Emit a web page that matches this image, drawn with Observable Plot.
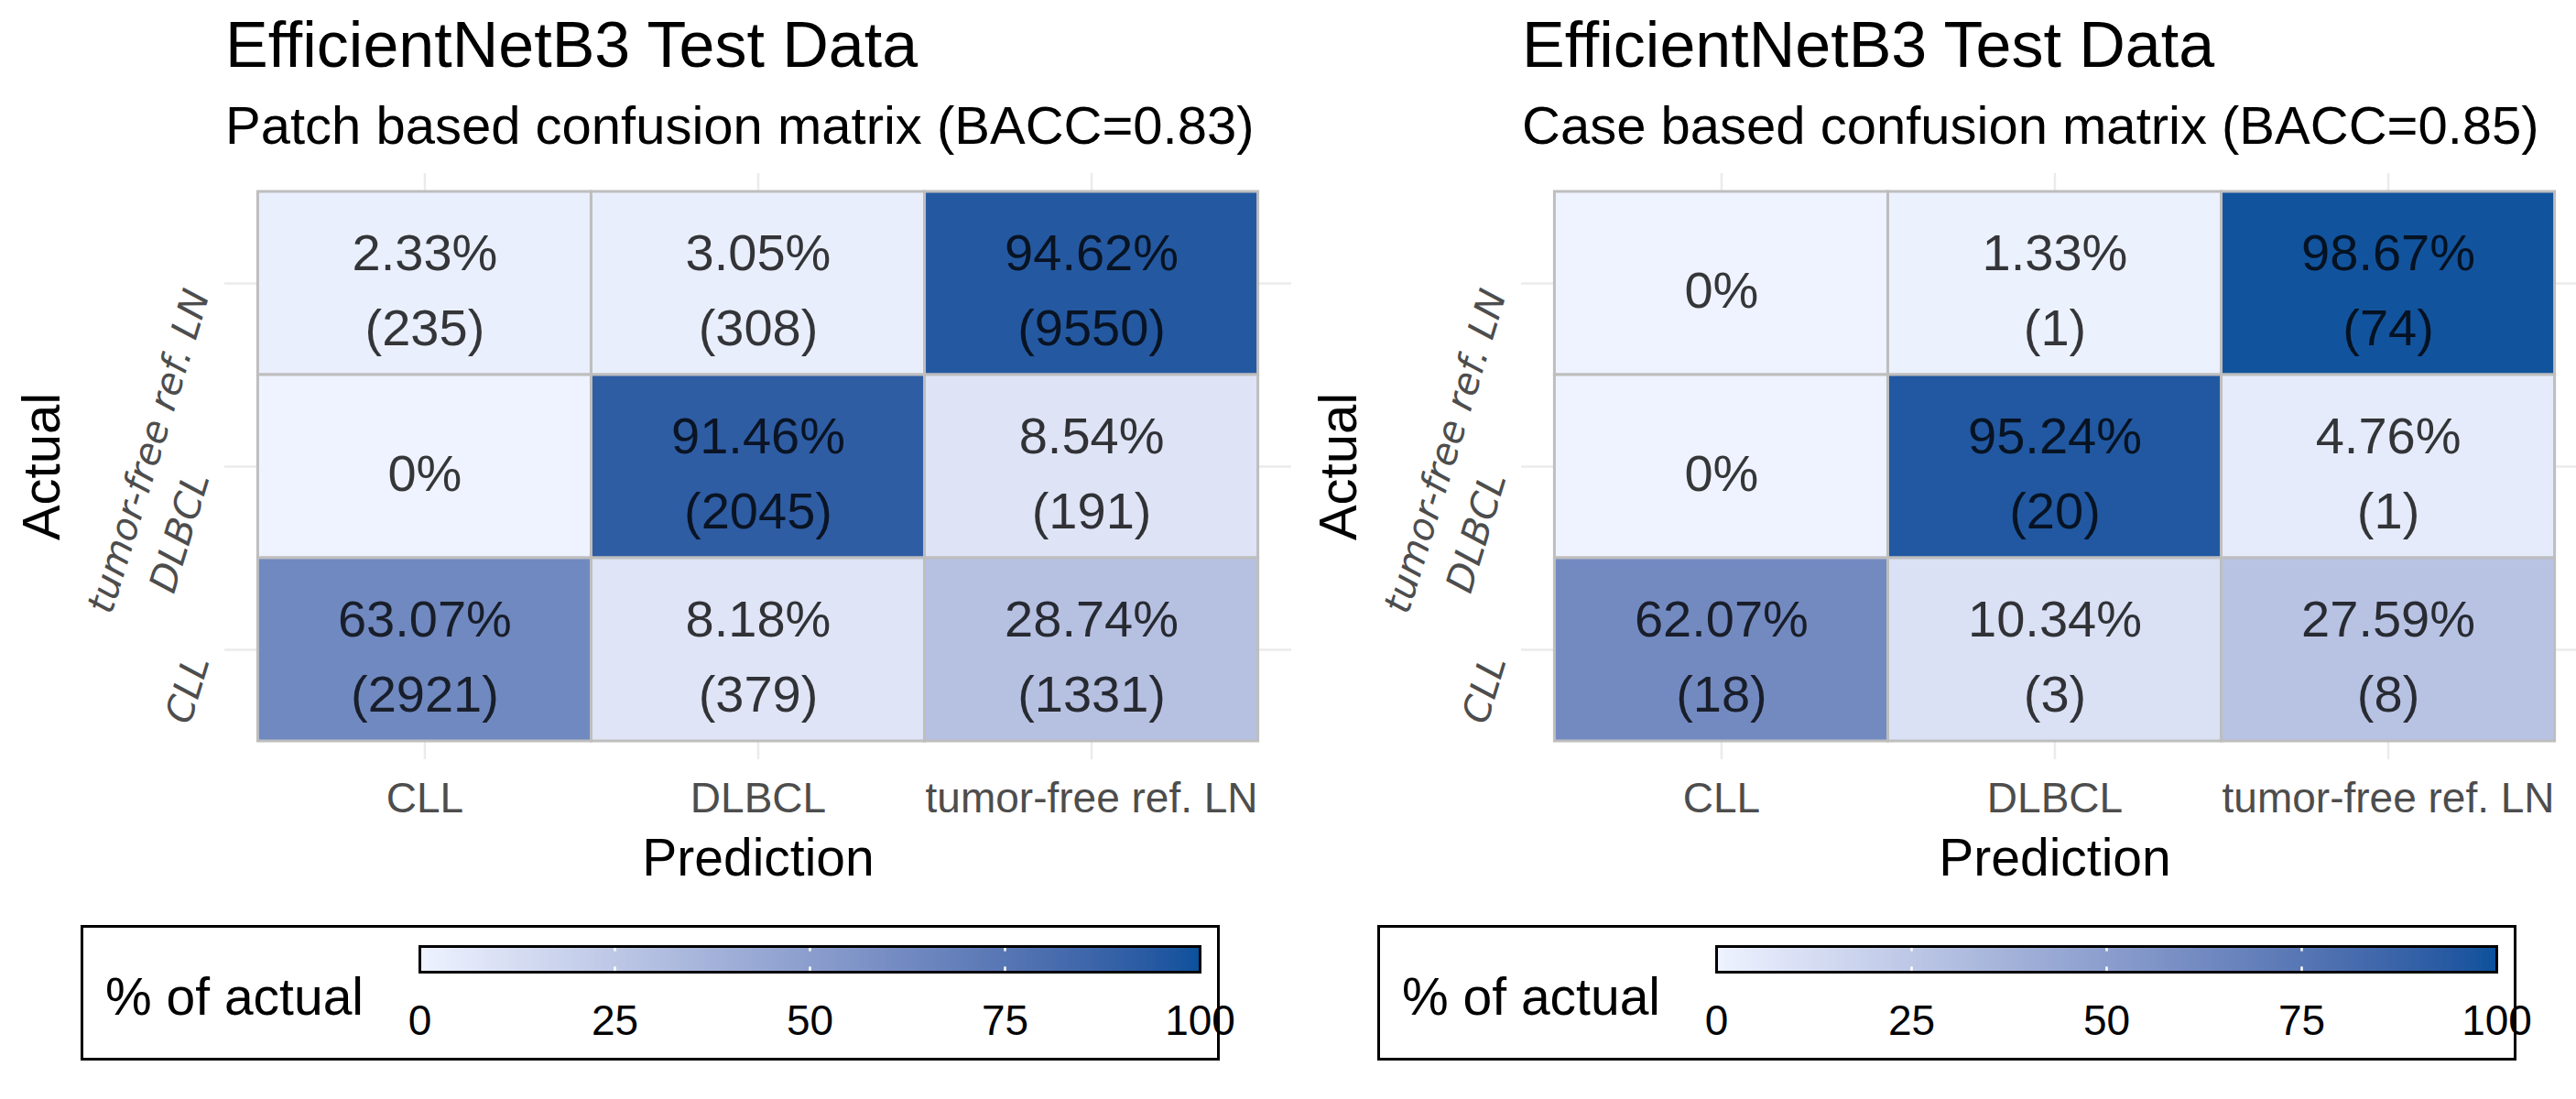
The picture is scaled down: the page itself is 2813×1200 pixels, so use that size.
<!DOCTYPE html>
<html>
<head>
<meta charset="utf-8">
<script src="https://cdn.jsdelivr.net/npm/d3@7"></script>
<script src="https://cdn.jsdelivr.net/npm/@observablehq/plot@0.6"></script>
<style>
  html, body { margin: 0; padding: 0; background: #fff; }
  #root { position: relative; width: 2813px; height: 1200px; overflow: hidden; background: #fff;
          font-family: "Liberation Sans", Arial, sans-serif; }
  .abs { position: absolute; white-space: nowrap; }
</style>
</head>
<body>
<div id="root"></div>
<script>
// ---------------- data ----------------
const predictionClasses = ["CLL", "DLBCL", "tumor-free ref. LN"];
const actualClasses = ["tumor-free ref. LN", "DLBCL", "CLL"]; // top to bottom

const cellActual = ["tumor-free ref. LN", "tumor-free ref. LN", "tumor-free ref. LN",
                    "DLBCL", "DLBCL", "DLBCL",
                    "CLL", "CLL", "CLL"];
const cellPrediction = ["CLL", "DLBCL", "tumor-free ref. LN",
                        "CLL", "DLBCL", "tumor-free ref. LN",
                        "CLL", "DLBCL", "tumor-free ref. LN"];

const patchPercent = [2.33, 3.05, 94.62, 0, 91.46, 8.54, 63.07, 8.18, 28.74];
const patchCount   = [235, 308, 9550, 0, 2045, 191, 2921, 379, 1331];

const casePercent = [0, 1.33, 98.67, 0, 95.24, 4.76, 62.07, 10.34, 27.59];
const caseCount   = [0, 1, 74, 0, 20, 1, 18, 3, 8];

const panelTitles = ["EfficientNetB3 Test Data", "EfficientNetB3 Test Data"];
const panelSubtitles = ["Patch based confusion matrix (BACC=0.83)", "Case based confusion matrix (BACC=0.85)"];
const legendTitle = "% of actual";
const legendTicks = [0, 25, 50, 75, 100];
const axisTitleX = "Prediction";
const axisTitleY = "Actual";

// ---------------- drawing ----------------
const FONT = '"Liberation Sans", Arial, sans-serif';
const colorScale = {
  type: "linear", domain: [0, 100], range: ["#eff3ff", "#08519c"], interpolate: d3.interpolateLab
};

function makeCells(percent, count) {
  return cellActual.map((a, i) => ({
    actual: a, prediction: cellPrediction[i], percent: percent[i], count: count[i]
  }));
}

function drawPanel(root, offsetX, title, subtitle, percent, count) {
  const panel = document.createElement("div");
  panel.className = "abs";
  panel.style.left = offsetX + "px";
  panel.style.top = "0px";
  panel.style.width = "1416px";
  panel.style.height = "1200px";
  root.appendChild(panel);

  const t = document.createElement("div");
  t.className = "abs";
  t.textContent = title;
  Object.assign(t.style, { left: "246px", top: (73 - 0.8465 * 70) + "px", fontSize: "70px", lineHeight: "70px", color: "#000" });
  panel.appendChild(t);

  const st = document.createElement("div");
  st.className = "abs";
  st.textContent = subtitle;
  Object.assign(st.style, { left: "246px", top: (157 - 0.8465 * 58) + "px", fontSize: "58px", lineHeight: "58px", color: "#000" });
  panel.appendChild(st);

  const cells = makeCells(percent, count);

  const chart = Plot.plot({
    width: 1416, height: 800,
    marginLeft: 245, marginRight: 6, marginTop: 14, marginBottom: 146,
    x: { type: "band", domain: predictionClasses, paddingInner: 0, paddingOuter: 0.1, round: false },
    y: { type: "band", domain: actualClasses, paddingInner: 0, paddingOuter: 0.1, round: false, axis: null },
    color: colorScale,
    style: { fontFamily: FONT, background: "transparent", maxWidth: "none", overflow: "visible" },
    marks: [
      Plot.gridX({ stroke: "#ebebeb", strokeOpacity: 1, strokeWidth: 2.5 }),
      Plot.gridY({ stroke: "#ebebeb", strokeOpacity: 1, strokeWidth: 2.5 }),
      Plot.cell(cells, { x: "prediction", y: "actual", fill: "percent", stroke: "#bebebe", strokeWidth: 3, inset: 0 }),
      Plot.text(cells, {
        x: "prediction", y: "actual",
        text: d => d.count === 0 ? `${d.percent}%` : `${d.percent}%\n(${d.count})`,
        fontSize: 56, lineHeight: 1.48, lineAnchor: "middle", fill: "#000", fillOpacity: 0.78
      }),
      Plot.axisX({ tickSize: 0, tickPadding: 25, fontSize: 46, color: "#4d4d4d", label: null }),
      Plot.text([axisTitleX], { frameAnchor: "bottom", textAnchor: "middle", lineAnchor: "bottom", dy: 126, fontSize: 57, fill: "#000" }),
      Plot.text([axisTitleY], { frameAnchor: "left", textAnchor: "middle", lineAnchor: "bottom", rotate: -90, dx: 64 - 245, fontSize: 58, fill: "#000" }),
      Plot.text(actualClasses, {
        y: d => d, frameAnchor: "left", textAnchor: "end", lineAnchor: "middle",
        rotate: -73, dx: -29, dy: 8, fontSize: 41, fontStyle: "italic",
        fontFamily: "DejaVu Sans", fill: "#4d4d4d"
      })
    ]
  });
  const wrap = document.createElement("div");
  wrap.className = "abs";
  Object.assign(wrap.style, { left: "0px", top: "175px", width: "1416px", height: "800px" });
  wrap.appendChild(chart);
  panel.appendChild(wrap);

  // legend box
  const box = document.createElement("div");
  box.className = "abs";
  Object.assign(box.style, { left: "88px", top: "1010px", width: "1244px", height: "148px",
    border: "3px solid #000", boxSizing: "border-box" });
  panel.appendChild(box);

  const lt = document.createElement("div");
  lt.className = "abs";
  lt.textContent = legendTitle;
  Object.assign(lt.style, { left: "115px", top: (1108 - 0.8465 * 57) + "px", fontSize: "57px", lineHeight: "57px", color: "#000" });
  panel.appendChild(lt);

  const legend = Plot.plot({
    width: 980, height: 130,
    marginLeft: 58, marginRight: 70, marginTop: 13, marginBottom: 89,
    x: { type: "linear", domain: [0, 100] },
    y: { type: "linear", domain: [0, 1], axis: null },
    color: colorScale,
    style: { fontFamily: FONT, background: "transparent", maxWidth: "none", overflow: "visible" },
    marks: [
      Plot.raster({ x1: 0, x2: 100, y1: 0, y2: 1, width: 300, height: 1, fill: (x, y) => x, imageRendering: "auto" }),
      Plot.ruleX(legendTicks.slice(1, -1), { y1: 0.8, y2: 1, stroke: "#fff", strokeWidth: 2.5 }),
      Plot.ruleX(legendTicks.slice(1, -1), { y1: 0, y2: 0.2, stroke: "#fff", strokeWidth: 2.5 }),
      Plot.frame({ stroke: "#000", strokeWidth: 3 }),
      Plot.axisX({ ticks: legendTicks, tickSize: 0, tickPadding: 36, fontSize: 46, color: "#000", label: null, tickFormat: d => String(d) })
    ]
  });
  const lwrap = document.createElement("div");
  lwrap.className = "abs";
  Object.assign(lwrap.style, { left: "400px", top: "1020px", width: "980px", height: "130px" });
  lwrap.appendChild(legend);
  panel.appendChild(lwrap);
}

const root = document.getElementById("root");
drawPanel(root, 0, panelTitles[0], panelSubtitles[0], patchPercent, patchCount);
drawPanel(root, 1416, panelTitles[1], panelSubtitles[1], casePercent, caseCount);
</script>
</body>
</html>
